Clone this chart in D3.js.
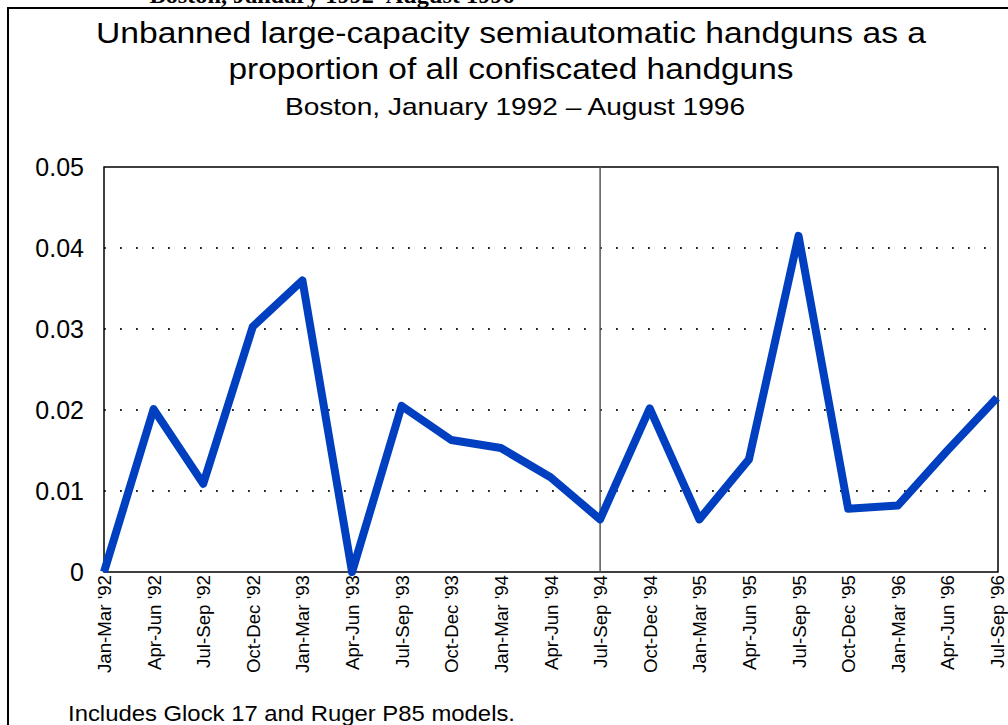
<!DOCTYPE html>
<html>
<head>
<meta charset="utf-8">
<script src="https://cdn.jsdelivr.net/npm/d3@7"></script>
<style>
    body { margin: 0; background: #fff; }
    text { font-family: Arial, "Liberation Sans", sans-serif; fill: #000; }
</style>
</head>
<body>
<svg id="chart" width="1008" height="725"></svg>
<script>
// Quarters, Jan 1992 - Sep 1996
var quarters = ["Jan-Mar '92", "Apr-Jun '92", "Jul-Sep '92", "Oct-Dec '92",
    "Jan-Mar '93", "Apr-Jun '93", "Jul-Sep '93", "Oct-Dec '93",
    "Jan-Mar '94", "Apr-Jun '94", "Jul-Sep '94", "Oct-Dec '94",
    "Jan-Mar '95", "Apr-Jun '95", "Jul-Sep '95", "Oct-Dec '95",
    "Jan-Mar '96", "Apr-Jun '96", "Jul-Sep '96"]

// proportion of confiscated handguns
var proportion = [0, 0.0201, 0.0109, 0.0303, 0.0360,
    0, 0.0205, 0.0163, 0.0153, 0.0117,
    0.0065, 0.0202, 0.0065, 0.0139, 0.0415,
    0.0078, 0.0082, 0.0150, 0.0215]

var yTicks = [0, 0.01, 0.02, 0.03, 0.04, 0.05]
var yTickLabels = ["0", "0.01", "0.02", "0.03", "0.04", "0.05"]
var banQuarter = "Jul-Sep '94"

var titleLines = ["Unbanned large-capacity semiautomatic handguns as a", "proportion of all confiscated handguns"]
var subtitle = "Boston, January 1992 \u2013 August 1996"
var note = "Includes Glock 17 and Ruger P85 models."

var plotLeft = 104, plotRight = 998, plotTop = 167, plotBottom = 572

var svg = d3.select("#chart")

// cut-off caption above the frame
svg.append("text")
    .attr("x", 332)
    .attr("y", 3)
    .attr("text-anchor", "middle")
    .attr("textLength", 365)
    .attr("lengthAdjust", "spacingAndGlyphs")
    .style("font-family", "'Liberation Serif', 'Times New Roman', serif")
    .style("font-weight", "bold")
    .style("font-size", "23px")
    .text("Boston, January 1992\u2013August 1996")

// outer frame (runs off right and bottom)
svg.append("rect")
    .attr("x", 8)
    .attr("y", 8)
    .attr("width", 1100)
    .attr("height", 800)
    .attr("fill", "none")
    .attr("stroke", "#000")
    .attr("stroke-width", 2)

// the original title is stretched horizontally
var titleWidths = [830, 565]
svg.selectAll(".title")
    .data(titleLines)
    .enter()
    .append("text")
    .attr("class", "title")
    .attr("x", 511)
    .attr("y", function (d, i) { return 43 + i * 36 })
    .attr("text-anchor", "middle")
    .attr("textLength", function (d, i) { return titleWidths[i] })
    .attr("lengthAdjust", "spacingAndGlyphs")
    .style("font-size", "29px")
    .text(function (d) { return d })

svg.append("text")
    .attr("x", 515)
    .attr("y", 115)
    .attr("text-anchor", "middle")
    .attr("textLength", 460)
    .attr("lengthAdjust", "spacingAndGlyphs")
    .style("font-size", "24px")
    .text(subtitle)

var x = d3.scalePoint()
    .domain(quarters)
    .range([plotLeft, 997])

var y = d3.scaleLinear()
    .domain([0, 0.05])
    .range([plotBottom, plotTop])

var g = svg.append("g")

// dotted gridlines
g.selectAll(".grid")
    .data(yTicks.slice(1, 5))
    .enter()
    .append("line")
    .attr("class", "grid")
    .attr("x1", plotLeft)
    .attr("x2", plotRight)
    .attr("y1", function (d) { return y(d) })
    .attr("y2", function (d) { return y(d) })
    .attr("stroke", "#222")
    .attr("stroke-width", 1.8)
    .attr("stroke-dasharray", "1.8,14.2")

// plot frame
g.append("rect")
    .attr("x", plotLeft)
    .attr("y", plotTop)
    .attr("width", plotRight - plotLeft)
    .attr("height", plotBottom - plotTop)
    .attr("fill", "none")
    .attr("stroke", "#000")
    .attr("stroke-width", 1.5)

// line marking the ban quarter
g.append("line")
    .attr("x1", x(banQuarter))
    .attr("x2", x(banQuarter))
    .attr("y1", plotTop)
    .attr("y2", plotBottom)
    .attr("stroke", "#555")
    .attr("stroke-width", 1.5)

var yAxis = d3.axisLeft(y)
    .tickValues(yTicks)
    .tickSize(0)
    .tickPadding(20)
    .tickFormat(function (d, i) { return yTickLabels[i] })

var yg = svg.append("g")
    .attr("transform", "translate(" + plotLeft + ",0)")
    .call(yAxis)
yg.select(".domain").remove()
yg.selectAll("text")
    .style("font-size", "25px")
    .style("font-family", "Arial, 'Liberation Sans', sans-serif")
    .attr("fill", "#000")

var xAxis = d3.axisBottom(x)
    .tickSize(0)
    .tickPadding(0)

var xg = svg.append("g")
    .attr("transform", "translate(0," + plotBottom + ")")
    .call(xAxis)
xg.select(".domain").remove()
xg.selectAll("text")
    .attr("transform", "rotate(-90)")
    .attr("x", -3)
    .attr("y", 0)
    .attr("dy", "0.35em")
    .attr("text-anchor", "end")
    .style("font-size", "18.7px")
    .style("font-family", "Arial, 'Liberation Sans', sans-serif")
    .attr("fill", "#000")

var line = d3.line()
    .x(function (d, i) { return x(quarters[i]) })
    .y(function (d) { return y(d) })

svg.append("path")
    .datum(proportion)
    .attr("d", line)
    .attr("fill", "none")
    .attr("stroke", "#0040c0")
    .attr("stroke-width", 8)
    .attr("stroke-linejoin", "round")

svg.append("text")
    .attr("x", 68)
    .attr("y", 721)
    .attr("textLength", 447)
    .attr("lengthAdjust", "spacingAndGlyphs")
    .style("font-size", "22px")
    .text(note)
</script>
</body>
</html>
